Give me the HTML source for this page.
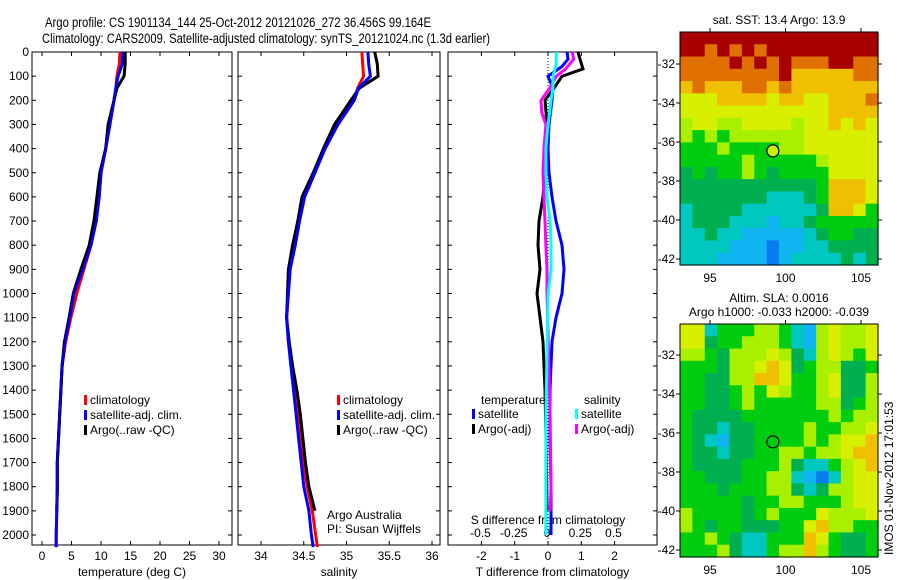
<!DOCTYPE html>
<html><head><meta charset="utf-8"><style>
body{margin:0;background:#fff;}
svg{display:block;font-family:"Liberation Sans",sans-serif;}
text{font-size:12px;fill:#000;}
</style></head><body>
<svg id="fig" width="900" height="580" viewBox="0 0 900 580">
<text x="45" y="27" textLength="386" lengthAdjust="spacingAndGlyphs" style="font-size:13.5px">Argo profile: CS 1901134_144 25-Oct-2012 20121026_272 36.456S 99.164E</text>
<text x="42" y="43" textLength="448" lengthAdjust="spacingAndGlyphs" style="font-size:13.5px">Climatology: CARS2009. Satellite-adjusted climatology: synTS_20121024.nc (1.3d earlier)</text>
<g id="plots"></g>
<text x="779" y="24" text-anchor="middle">sat. SST: 13.4 Argo: 13.9</text>
<text x="779" y="302" text-anchor="middle">Altim. SLA: 0.0016</text>
<text x="779" y="316" text-anchor="middle">Argo h1000: -0.033 h2000: -0.039</text>
<text transform="translate(893,555) rotate(-90)">IMOS 01-Nov-2012 17:01:53</text>
</svg>
<script>
// ---- data ----
const depths = [0,50,100,150,200,300,400,500,600,700,800,900,1000,1100,1200,1300,1400,1500,1600,1700,1800,1900,2000,2050];
const tempClim = [13.2,13.1,12.7,12.5,12.2,11.5,10.8,10.0,9.7,9.0,8.3,7.1,5.9,4.9,4.0,3.4,3.2,3.0,2.8,2.6,2.6,2.5,2.4,2.4];
const tempSat  = [13.7,13.6,12.9,12.5,12.2,11.5,10.8,10.0,9.7,9.2,8.3,6.9,5.4,4.7,3.9,3.4,3.2,3.0,2.8,2.6,2.6,2.5,2.4,2.4];
const tempArgo = [14.1,14.1,13.9,12.7,12.2,11.2,10.8,9.8,9.3,8.8,8.0,6.6,5.3,4.6,3.8,3.4,3.2,3.0,2.8,2.6,2.6,2.5];
const salClim = [35.18,35.19,35.2,35.13,35.09,34.9,34.75,34.63,34.51,34.45,34.4,34.34,34.32,34.3,34.32,34.36,34.41,34.44,34.47,34.5,34.54,34.6,34.64,34.66];
const salSat  = [35.25,35.26,35.28,35.14,35.09,34.9,34.75,34.63,34.51,34.45,34.4,34.34,34.32,34.3,34.32,34.35,34.38,34.41,34.44,34.47,34.5,34.56,34.59,34.61];
const salArgo = [35.33,35.36,35.37,35.15,35.05,34.86,34.73,34.61,34.48,34.43,34.37,34.32,34.31,34.3,34.33,34.37,34.42,34.46,34.49,34.52,34.56,34.63];
const diffDepthsA = [0,30,60,100,150,200,300,400,500,600,700,800,900,1000,1100,1200,1400,1600,1800,2000];
const tDiffSat = [0.57,0.6,0.42,0,0.15,0.12,0.03,0,0.03,0.12,0.24,0.42,0.48,0.42,0.24,0.12,0.06,0.06,0.09,0.09];
const diffDepthsB = [0,30,70,100,150,200,300,400,500,600,700,800,900,1000,1100,1200,1400,1600,1900];
const tDiffArgo = [0.9,0.96,1.05,0.42,0.18,-0.09,-0.03,-0.06,-0.09,-0.15,-0.27,-0.3,-0.24,-0.33,-0.24,-0.15,-0.09,-0.06,-0.03];
const diffDepthsC = [0,50,100,150,200,300,400,500,600,700,800,900,1000,1500,2000];
const sDiffSat = [0.07,0.07,0.045,0.045,0.03,0.008,-0.008,-0.008,0,0.023,0.03,0.03,0.008,-0.008,-0.008];
const diffDepthsD = [0,30,70,100,150,200,250,300,400,500,600,700,800,900,1000,1500,1800,1900];
const sDiffArgo = [0.19,0.2,0.14,0.07,0.02,-0.045,-0.04,-0.008,-0.023,-0.03,-0.023,-0.015,-0.008,0,0,0.023,0.03,0.023];
const depthTicks = [0,100,200,300,400,500,600,700,800,900,1000,1100,1200,1300,1400,1500,1600,1700,1800,1900,2000];
const tempTicks = [0,5,10,15,20,25,30];
const salTicks = [34,34.5,35,35.5,36];
const tDiffTicks = [-2,-1,0,1,2];
const sDiffTicks = [-0.5,-0.25,0,0.25,0.5];
const latTicks = [-32,-34,-36,-38,-40,-42];
const lonTicks = [95,100,105];
const sstGrid = [
"9999999999999999","9989898999999999","8888989898889988","8888888897777788","7877788787777777",
"6667777677667778","6666666666667777","5665566665667676","5454555555666666","4445444455666666",
"4444454444456666","3434454344446666","3333333333347776","3333333222347776","2333322222237764",
"2333222122344444","2232211111234433","2222111011223333","2221111012222323"];
const slaGrid = [
"6624445542156556","6634455542156556","5543555653256546","4443556763455334","4433557764456335",
"4433454654456335","4433454444455345","4333344444445455","4332334444544556","4321334444545667",
"4332334455455677","4333344453224567","4433344552102566","4443444553235566","4444434455444566",
"5444434544465556","5434433344675544","4454322444764334","4445322455754334"];
const argoLon = 99.164, argoLat = -36.456;

// ---- helpers ----
const NS="http://www.w3.org/2000/svg";
const root=document.getElementById('plots');
function mk(tag,attrs,parent){const e=document.createElementNS(NS,tag);for(const k in attrs)e.setAttribute(k,attrs[k]);(parent||root).appendChild(e);return e;}
const yTop=52, yPer=0.2415;
const yD=d=>yTop+d*yPer;
const yBottom=545;
function panel(name,x0,x1,xScale,ticks,fmt,label){
  const g=mk('g',{});
  
  
  const r=mk('rect',{x:x0,y:yTop,width:x1-x0,height:yBottom-yTop,fill:'none',stroke:'#000','stroke-width':1},g);
  
  
  depthTicks.forEach(d=>{
    mk('line',{x1:x0,x2:x0+4,y1:yD(d),y2:yD(d),stroke:'#000'},g);
    mk('line',{x1:x1,x2:x1-4,y1:yD(d),y2:yD(d),stroke:'#000'},g);
  });
  ticks.forEach(v=>{
    const x=xScale(v);
    mk('line',{x1:x,x2:x,y1:yBottom,y2:yBottom-4,stroke:'#000'},g);
    mk('line',{x1:x,x2:x,y1:yTop,y2:yTop+4,stroke:'#000'},g);
    const t=mk('text',{x:x,y:yBottom+15,'text-anchor':'middle'},g);t.textContent=fmt(v);
    
    
  });
  if(label){const t=mk('text',{x:(x0+x1)/2,y:576,'text-anchor':'middle'},g);t.textContent=label;
    
    }
  return g;
}
function profile(g,name,ds,vals,xs,color,w){
  let d='';
  vals.forEach((v,i)=>{const x=xs(v),y=yD(ds[i]);d+=(i?'L':'M')+x.toFixed(1)+','+y.toFixed(1);});
  const p=mk('path',{d:d,fill:'none',stroke:color,'stroke-width':w||3,'stroke-linejoin':'miter'},g);
  
  
}
function legend(g,x,y,color,label){
  const r=mk('rect',{x:x,y:y-9,width:3,height:10,fill:color},g);
  
  
  const t=mk('text',{x:x+6,y:y},g);t.textContent=label;
  
  
}

// depth labels
depthTicks.forEach(d=>{const t=mk('text',{x:29,y:yD(d)+4,'text-anchor':'end'});t.textContent=d;
  
  });

// panel 1 temperature
const xT=v=>42+v*5.9;
const p1=panel('temperature-panel',32,232,xT,tempTicks,v=>v,'temperature (deg C)');
profile(p1,'temp-climatology',depths,tempClim,xT,'#f00');
profile(p1,'temp-satellite',depths,tempSat,xT,'#00f');
profile(p1,'temp-argo',depths,tempArgo,xT,'#000');
profile(p1,'temp-satellite-top',depths,tempSat,xT,'#00f',2);
legend(p1,84,404,'#f00','climatology');
legend(p1,84,419,'#00f','satellite-adj. clim.');
legend(p1,84,434,'#000','Argo(..raw -QC)');

// panel 2 salinity
const xS=v=>261+(v-34)*85.5;
const p2=panel('salinity-panel',238,440,xS,salTicks,v=>v,'salinity');
profile(p2,'sal-climatology',depths,salClim,xS,'#f00');
profile(p2,'sal-argo',depths,salArgo,xS,'#000');
profile(p2,'sal-satellite',depths,salSat,xS,'#00f');
legend(p2,337,404,'#f00','climatology');
legend(p2,337,419,'#00f','satellite-adj. clim.');
legend(p2,337,434,'#000','Argo(..raw -QC)');
const a1=mk('text',{x:327,y:519},p2);a1.textContent='Argo Australia';


const a2=mk('text',{x:327,y:533},p2);a2.textContent='PI: Susan Wijffels';



// panel 3 differences
const xTd=v=>548+v*33.3;
const xSd=v=>547+v*133;
const p3=panel('difference-panel',448,657,xTd,tDiffTicks,v=>v,'T difference from climatology');
mk('line',{x1:xTd(0),x2:xTd(0),y1:yTop,y2:yBottom,stroke:'#000','stroke-dasharray':'1,2'},p3);
sDiffTicks.forEach(v=>{const t=mk('text',{x:xSd(v),y:537,'text-anchor':'middle'},p3);t.textContent=v;
  
  });
const st=mk('text',{x:548,y:524,'text-anchor':'middle'},p3);st.textContent='S difference from climatology';


profile(p3,'tdiff-argo',diffDepthsB,tDiffArgo,xTd,'#000');
profile(p3,'tdiff-satellite',diffDepthsA,tDiffSat,xTd,'#00f');
profile(p3,'sdiff-argo',diffDepthsD,sDiffArgo,xSd,'#f0f');
profile(p3,'sdiff-satellite',diffDepthsC,sDiffSat,xSd,'#0ff');
const lt=mk('text',{x:481,y:404},p3);lt.textContent='temperature';


const ls=mk('text',{x:584,y:404},p3);ls.textContent='salinity';


legend(p3,472,418,'#00f','satellite');
legend(p3,472,433,'#000','Argo(-adj)');
legend(p3,575,418,'#0ff','satellite');
legend(p3,575,433,'#f0f','Argo(-adj)');

// maps
const cmap=['#0a7cf0','#10b4f0','#00c8c0','#00b050','#00cc10','#a8f000','#d8f000','#f0c000','#e07000','#a80000'];
function drawMap(name,grid,x0,y0,w,h,lat0,latPer,filled){
  const g=mk('g',{});
  
  
  const rows=grid.length, cols=grid[0].length, cw=w/cols, ch=h/rows;
  grid.forEach((row,ri)=>{for(let ci=0;ci<cols;ci++){
    const c=mk('rect',{x:(x0+ci*cw).toFixed(2),y:(y0+ri*ch).toFixed(2),width:(cw+0.6).toFixed(2),height:(ch+0.6).toFixed(2),fill:cmap[+row[ci]]},g);
    
    
  }});
  const fr=mk('rect',{x:x0,y:y0,width:w,height:h,fill:'none',stroke:'#000'},g);
  
  
  const lonX=v=>710+(v-95)*15.1;
  const latY=v=>lat0+(-32-v)*latPer;
  latTicks.forEach(v=>{const y=latY(v);
    mk('line',{x1:x0+w,x2:x0+w+4,y1:y,y2:y,stroke:'#000'},g);
    mk('line',{x1:x0,x2:x0-4,y1:y,y2:y,stroke:'#000'},g);
    const t=mk('text',{x:x0-5,y:y+4,'text-anchor':'end'},g);t.textContent=v;
    
    });
  lonTicks.forEach(v=>{const x=lonX(v);
    mk('line',{x1:x,x2:x,y1:y0,y2:y0-4,stroke:'#000'},g);
    const t=mk('text',{x:x,y:y0+h+17,'text-anchor':'middle'},g);t.textContent=v;
    
    });
  const m=mk('circle',{cx:lonX(argoLon),cy:latY(argoLat),r:6,fill:filled?'#c8f000':'none',stroke:'#000','stroke-width':1.2},g);
  
  
}
drawMap('sst-map',sstGrid,680,32,198,233,64,19.5,true);
drawMap('sla-map',slaGrid,680,324,198,233,355,19.5,false);
</script>
</body></html>
